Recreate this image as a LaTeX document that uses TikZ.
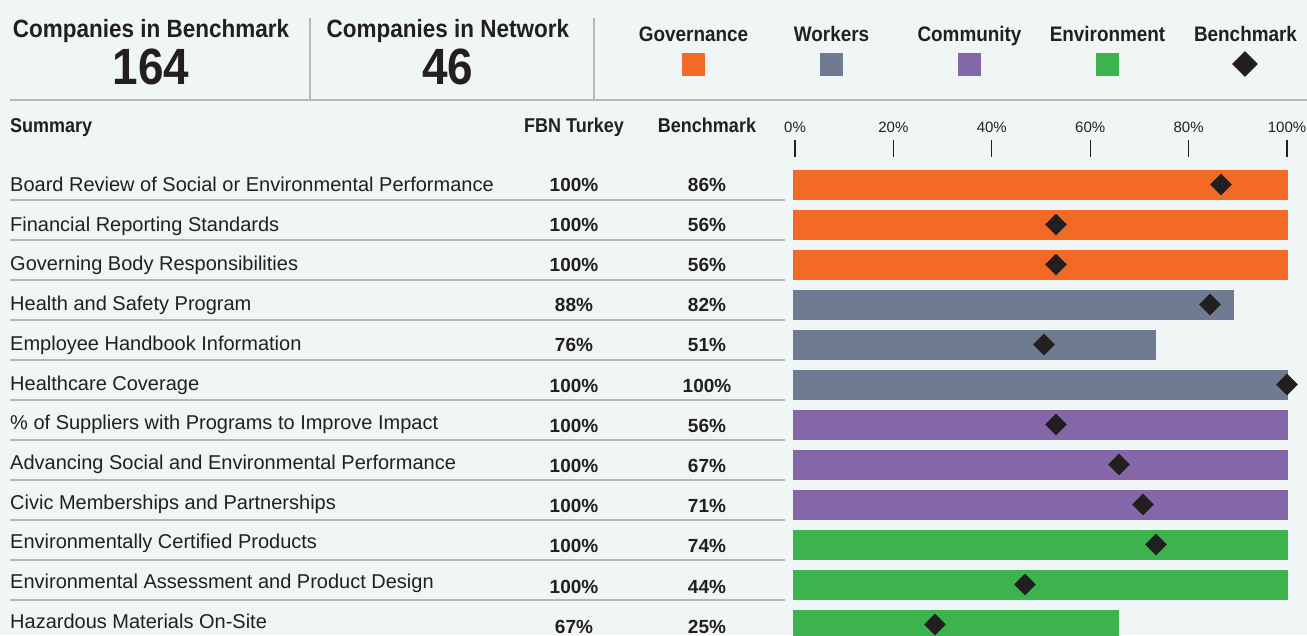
\documentclass[tikz,border=0pt]{standalone}
\usepackage{fontspec}
\setmainfont{Liberation Sans}
\newfontfamily\condfont{Liberation Sans}[FakeStretch=0.9]
\usetikzlibrary{shapes.geometric}
\definecolor{bg}{HTML}{F0F6F6}
\definecolor{ink}{HTML}{231F20}
\definecolor{rule}{HTML}{B4B8BA}
\definecolor{gov}{HTML}{F26A25}
\definecolor{wrk}{HTML}{6E7B91}
\definecolor{com}{HTML}{8467A8}
\definecolor{env}{HTML}{3CB34C}

\begin{document}
\begin{tikzpicture}[x=1pt,y=-1pt,
        every node/.style={text=ink,inner sep=0pt},
        title/.style={anchor=base,font=\condfont\bfseries\fontsize{25}{30}\selectfont},
        bignum/.style={anchor=base,font=\condfont\bfseries\fontsize{51}{58}\selectfont},
        legend/.style={anchor=base,font=\condfont\bfseries\fontsize{21}{25}\selectfont},
        colhead/.style={anchor=base,font=\condfont\bfseries\fontsize{20}{24}\selectfont},
        axislab/.style={anchor=base,font=\fontsize{15}{18}\selectfont},
        rowlab/.style={anchor=base west,font=\fontsize{20}{24}\selectfont},
        value/.style={anchor=base,font=\bfseries\fontsize{19}{23}\selectfont},
        bmark/.style={diamond,fill=ink,minimum size=22pt,inner sep=0pt},
        swatch/.style={minimum size=23pt,inner sep=0pt},
        rulel/.style={draw=rule,line width=1.5pt}]
        \useasboundingbox (0,0) rectangle (1307,635);
        \fill[bg] (0,0) rectangle (1307,635);
        % header counts
        \node[title] (bmtitle) at (151,37) {Companies in Benchmark};
        \node[bignum] (bmcount) at (151,84) {164};
        \node[title] (nwtitle) at (448,37) {Companies in Network};
        \node[bignum] (nwcount) at (448,84) {46};
        \draw[rulel] (310,18) -- (310,100) (594,18) -- (594,100);
        \draw[rulel] (10,100) -- (1307,100);
        % legend
        \foreach \nm/\col/\x in {Governance/gov/693.5,Workers/wrk/831.5,Community/com/969.5,Environment/env/1107.5} {
            \node[legend] (leg\col) at (\x,41) {\nm};
            \node[swatch,fill=\col] (sw\col) at (\x,64.5) {};
        }
        \node[legend] (legbm) at (1245.5,41) {Benchmark};
        \node[bmark,minimum size=26pt] (swbm) at (1245,64) {};
        % column heads and axis
        \node[colhead,anchor=base west] (summary) at (10,132) {Summary};
        \node[colhead] (fbnhead) at (574,132) {FBN Turkey};
        \node[colhead] (bmhead) at (707,132) {Benchmark};
        \foreach \p [count=\k from 0] in {0,20,...,100} {
            \pgfmathsetmacro\tx{795+98.4*\k}
            \node[axislab] (ax\p) at (\tx,132) {\p\%};
            \draw[ink,line width=1.2pt] (\tx,140) -- (\tx,157);
        }
        % rows
        \foreach \lab/\fbn/\bm/\bx/\dx/\col [count=\i from 0] in {
            Board Review of Social or Environmental Performance/100/86/1288/1221/gov,
            Financial Reporting Standards/100/56/1288/1056/gov,
            Governing Body Responsibilities/100/56/1288/1056/gov,
            Health and Safety Program/88/82/1234/1210/wrk,
            Employee Handbook Information/76/51/1156/1044/wrk,
            Healthcare Coverage/100/100/1288/1287/wrk,
            \% of Suppliers with Programs to Improve Impact/100/56/1288/1056/com,
            Advancing Social and Environmental Performance/100/67/1288/1119/com,
            Civic Memberships and Partnerships/100/71/1288/1143/com,
            Environmentally Certified Products/100/74/1288/1156/env,
            Environmental Assessment and Product Design/100/44/1288/1025/env,
            Hazardous Materials On-Site/67/25/1119/935/env} {
            \pgfmathsetmacro\yb{184.5+40*\i}
            \pgfmathsetmacro\yl{191.5+39.7*\i}
            \pgfmathsetmacro\yv{191+40.2*\i}
            \node[rowlab] (lab\i) at (10,\yl) {\lab};
            \node[value] (fbn\i) at (574,\yv) {\fbn\%};
            \node[value] (bm\i) at (707,\yv) {\bm\%};
            \fill[\col] (793,\yb-15) rectangle (\bx,\yb+15);
            \node[bmark] (dia\i) at (\dx,\yb) {};
        }
        \foreach \k in {0,...,10}
            \draw[rulel] (10,200+40*\k) -- (785,200+40*\k);
\end{tikzpicture}
\end{document}
